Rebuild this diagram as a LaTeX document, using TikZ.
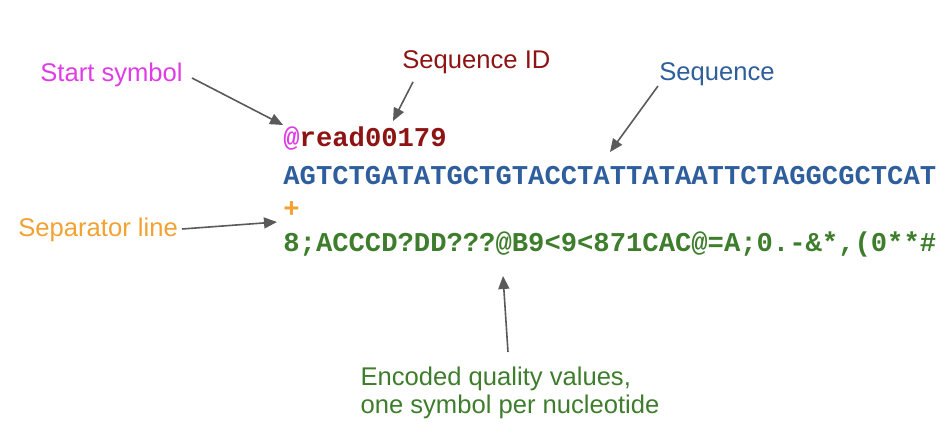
\documentclass[tikz,border=0pt]{standalone}
\usepackage{fontspec}
\setmainfont{Liberation Sans}
\newfontfamily\codefont{Liberation Mono}
\usetikzlibrary{arrows.meta}
\definecolor{cmag}{HTML}{E03CE6}
\definecolor{cred}{HTML}{8E1414}
\definecolor{cblue}{HTML}{2E5E9C}
\definecolor{corange}{HTML}{F2A232}
\definecolor{cgreen}{HTML}{3E7D2C}
\definecolor{carrow}{HTML}{5A5A5A}
\tikzset{
  lbl/.style={inner sep=0pt, font=\fontsize{12.8pt}{13.6pt}\selectfont},
  code/.style={inner sep=0pt, anchor=base west, font=\codefont\bfseries\fontsize{13.6pt}{16pt}\selectfont},
  pointer/.style={draw=carrow, line width=0.8pt, -{Triangle[length=6.5pt,width=5.5pt]}, fill=carrow}
}
\begin{document}
\begin{tikzpicture}[x=0.5pt,y=-0.5pt]
\useasboundingbox[fill=white] (0,0) rectangle (950,442);
% code lines
\node[code] (l1) at (283,147) {\textcolor{cmag}{@}\textcolor{cred}{read00179}};
\node[code, text=cblue] (l2) at (283,185) {AGTCTGATATGCTGTACCTATTATAATTCTAGGCGCTCAT};
\node[code, text=corange] (l3) at (283,218) {+};
\node[code, text=cgreen] (l4) at (283,252) {8;ACCCD?DD???@B9<9<871CAC@=A;0.-\&*,(0**\#};
% labels
\node[lbl, anchor=west, text=cmag] (start) at (40,75) {Start symbol};
\node[lbl, anchor=west, text=cred] (sid) at (402,62) {Sequence ID};
\node[lbl, anchor=west, text=cblue] (seq) at (659,74) {Sequence};
\node[lbl, anchor=west, text=corange] (sep) at (18,230) {Separator line};
\node[lbl, align=left, anchor=north, text=cgreen] (qual) at (510,367) {Encoded quality values,\\one symbol per nucleotide};
% arrow ends
\coordinate (startA) at (192,78);
\coordinate (startB) at (283,125);
\coordinate (sidA) at (413,82);
\coordinate (sidB) at (393,121);
\coordinate (seqA) at (658,86);
\coordinate (seqB) at (610,152);
\coordinate (sepA) at (182,229);
\coordinate (sepB) at (277,222);
\coordinate (qualA) at (508,352);
\coordinate (qualB) at (503,276);
\draw[pointer] (startA) -- (startB);
\draw[pointer] (sidA) -- (sidB);
\draw[pointer] (seqA) -- (seqB);
\draw[pointer] (sepA) -- (sepB);
\draw[pointer] (qualA) -- (qualB);
\end{tikzpicture}
\end{document}
